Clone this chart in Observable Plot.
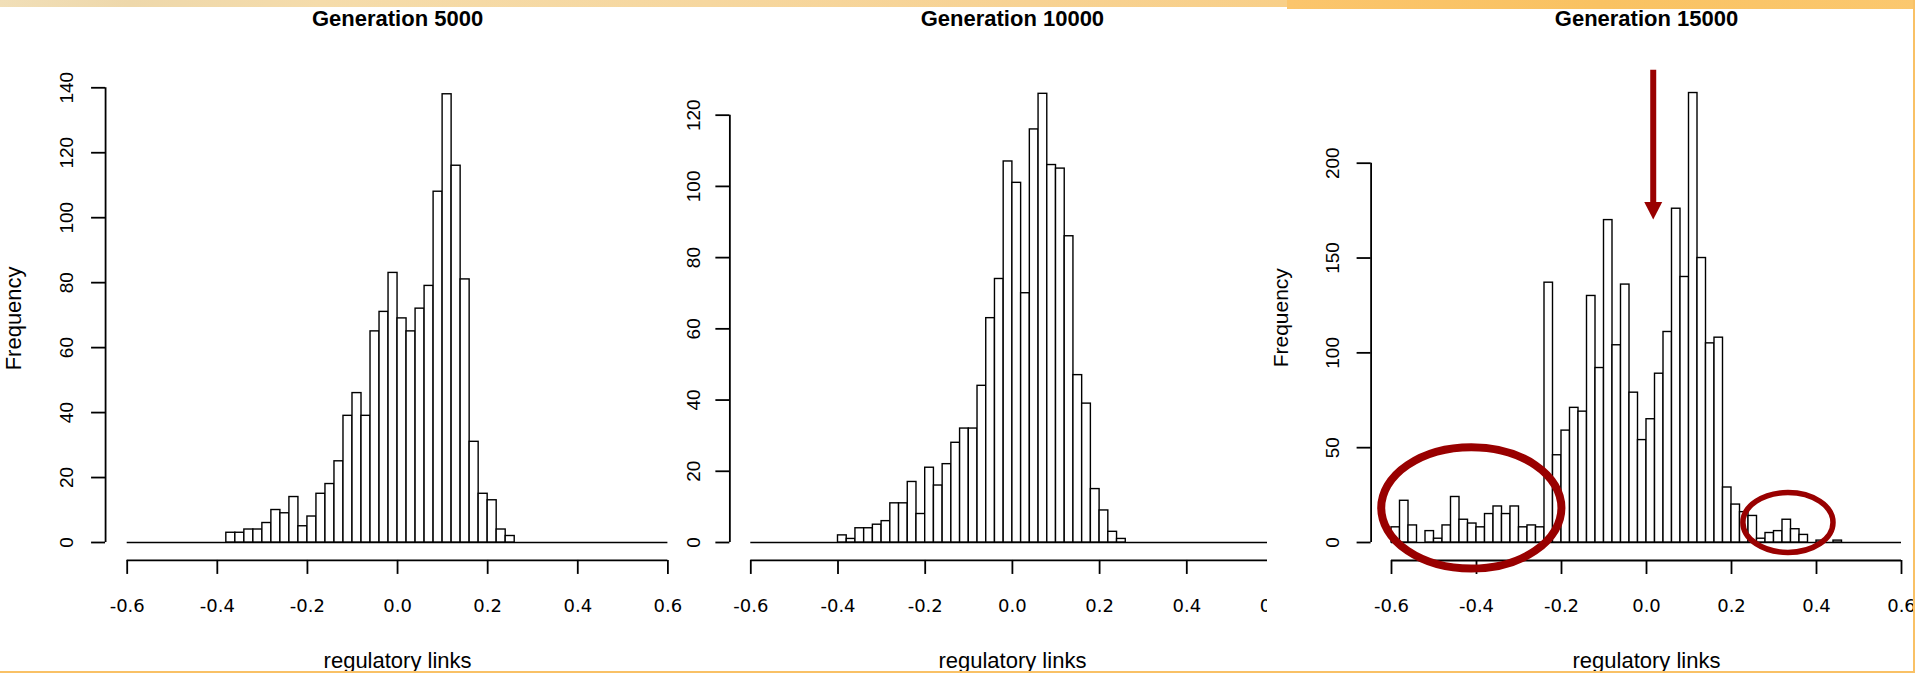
<!DOCTYPE html>
<html><head><meta charset="utf-8">
<script src="https://cdn.jsdelivr.net/npm/d3@7"></script>
<script src="https://cdn.jsdelivr.net/npm/@observablehq/plot@0.6"></script>
<style>
html,body{margin:0;padding:0;background:#fff;}
#wrap{position:relative;width:1915px;height:673px;overflow:hidden;background:#fff;}
.panel{position:absolute;top:0;height:673px;overflow:hidden;}
.strip{position:absolute;z-index:10;}
</style></head><body>
<div id="wrap">
  <div id="p1" class="panel" style="left:0px;width:682px"></div>
  <div id="p2" class="panel" style="left:682px;width:585px"></div>
  <div id="p3" class="panel" style="left:1267px;width:648px"></div>
  <div class="strip" style="left:0;top:0;width:1287px;height:7px;background:linear-gradient(90deg,#f1dfb8,#eed8ab 10%,#f5dcab 25%,#f6d79f 55%,#f7d293 80%,#f8cf88)"></div>
  <div class="strip" style="left:1287px;top:0;width:628px;height:9px;background:linear-gradient(90deg,#fbc56c,#f9c262 50%,#fbc86f)"></div>
  <div class="strip" style="left:0;top:671px;width:1915px;height:2px;background:#f9c166"></div>
  <div class="strip" style="left:1913px;top:0;width:2px;height:673px;background:#f9c166"></div>
</div>
<script>
// ---- data ----
const binWidth = 0.02;
const gen5000Start = -0.38;
const gen5000Counts = [3,3,4,4,6,10,9,14,5,8,15,18,25,39,46,39,65,71,83,69,65,72,79,108,138,116,81,31,15,13,4,2];
const gen10000Start = -0.40;
const gen10000Counts = [2,1,4,4,5,6,11,11,17,8,21,16,22,28,32,32,44,63,74,107,101,70,116,126,106,105,86,47,39,15,9,3,1];
const gen15000Start = -0.60;
const gen15000Counts = [8,22,9,0,6,2,9,24,12,10,8,15,19,15,19,8,9,8,137,46,59,71,69,130,92,170,104,136,79,54,65,89,111,176,140,237,150,105,108,29,20,16,14,2,5,6,12,7,4,0,1,0,1];
const titles = ["Generation 5000", "Generation 10000", "Generation 15000"];
const xTicks = [-0.6, -0.4, -0.2, 0, 0.2, 0.4, 0.6];
const yTicks1 = [0, 20, 40, 60, 80, 100, 120, 140];
const yTicks2 = [0, 20, 40, 60, 80, 100, 120];
const yTicks3 = [0, 50, 100, 150, 200];
const xLabel = "regulatory links";
const yLabel = "Frequency";
// annotations on generation 15000 (data units)
const arrowX = 0.017, arrowFrom = 249, arrowTo = 170;
const ellipseCenters = [[-0.411, 18.0], [0.334, 10.3]];
const ellipseRadii = [[0.212, 32.0], [0.106, 15.8]];

// ---- styles ----
const RED = "#990000";
const ellipseWidths = [8, 5.5];
const H = 673, Y0PX = 542;

function panel({el, width, counts, start, title, yTicks, xPx, ys, tickDx, yLabelDx, yLabelSize, extra}) {
  const bins = counts.map((n, i) => ({
    x1: +(start + i * binWidth).toFixed(2),
    x2: +(start + (i + 1) * binWidth).toFixed(2),
    n
  })).filter(d => d.n > 0);
  const ymax = d3.max(counts);
  const tmax = d3.max(yTicks);
  const xs = (xPx[1] - xPx[0]) / 1.2;
  const usrX0 = -0.6 - 0.04 * 1.2;
  const usrY0 = -0.04 * ymax;
  const marginLeft = xPx[0] + (usrX0 + 0.6) * xs;
  const marginBottom = H - (Y0PX - usrY0 * ys);
  const marks = [
    Plot.ruleY([0], {x1: -0.6, x2: 0.6, stroke: "#000", strokeWidth: 1.4}),
    Plot.rect(bins, {x1: "x1", x2: "x2", y1: 0, y2: "n", fill: "#fff", stroke: "#000", strokeWidth: 1.4}),
    Plot.ruleX([usrX0], {y1: 0, y2: tmax, stroke: "#000", strokeWidth: 1.8}),
    Plot.ruleY([usrY0], {x1: -0.6, x2: 0.6, stroke: "#000", strokeWidth: 1.8}),
    Plot.axisY(yTicks, {anchor: "left", tickSize: 14, tickFormat: () => "", strokeWidth: 1.8, label: null}),
    Plot.axisX(xTicks, {anchor: "bottom", tickSize: 14, tickFormat: () => "", strokeWidth: 1.8, label: null}),
    Plot.text(yTicks, {y: d => d, text: d => String(d), frameAnchor: "left", dx: tickDx, rotate: -90,
      textAnchor: "middle", lineAnchor: "middle",
      fontSize: 19, fontFamily: "Liberation Sans, Arial, sans-serif", fill: "#000"}),
    Plot.text(xTicks, {x: d => d, text: d => d.toFixed(1), frameAnchor: "bottom", dy: 46,
      textAnchor: "middle", lineAnchor: "middle",
      fontSize: 18, fontFamily: "DejaVu Sans, sans-serif", fill: "#000"}),
    Plot.text([title], {x: 0, frameAnchor: "top", dy: 18.5, textAnchor: "middle", lineAnchor: "middle",
      fontWeight: "bold", fontSize: 22, fill: "#000"}),
    Plot.text([xLabel], {x: 0, frameAnchor: "bottom", dy: 107.5, textAnchor: "middle", lineAnchor: "bottom",
      fontSize: 22, fill: "#000"})
  ];
  if (yLabelDx != null) {
    marks.push(Plot.text([yLabel], {y: ymax / 2, frameAnchor: "left", dx: yLabelDx, rotate: -90,
      textAnchor: "middle", lineAnchor: "bottom", fontSize: yLabelSize, fill: "#000"}));
  }
  if (extra) marks.push(extra);
  const chart = Plot.plot({
    width, height: H,
    marginLeft, marginBottom, marginTop: 0, marginRight: 0,
    x: {domain: [-0.6, 0.6], range: xPx, label: null},
    y: {domain: [0, tmax], range: [Y0PX, Y0PX - tmax * ys], label: null},
    style: {fontFamily: "Liberation Sans, Arial, sans-serif", background: "#fff", overflow: "hidden", maxWidth: "none", color: "#000"},
    marks
  });
  document.getElementById(el).appendChild(chart);
}

function annotations(index, scales) {
  const {x, y} = scales;
  const g = d3.create("svg:g");
  ellipseCenters.forEach(([cx, cy], i) => {
    const [rx, ry] = ellipseRadii[i];
    g.append("ellipse")
      .attr("cx", x(cx)).attr("cy", y(cy))
      .attr("rx", Math.abs(x(cx + rx) - x(cx))).attr("ry", Math.abs(y(cy) - y(cy + ry)))
      .attr("fill", "none").attr("stroke", RED).attr("stroke-width", ellipseWidths[i]);
  });
  const ax = x(arrowX), a0 = y(arrowFrom), a1 = y(arrowTo);
  g.append("line").attr("x1", ax).attr("x2", ax).attr("y1", a0).attr("y2", a1 - 15)
    .attr("stroke", RED).attr("stroke-width", 6);
  g.append("path").attr("d", `M${ax - 9},${a1 - 17.5}L${ax + 9},${a1 - 17.5}L${ax},${a1}Z`).attr("fill", RED);
  return g.node();
}

panel({el: "p1", width: 682, counts: gen5000Counts, start: gen5000Start, title: titles[0],
  yTicks: yTicks1, xPx: [126.7, 667.4], ys: 3.248, tickDx: -39, yLabelDx: -84.5, yLabelSize: 22});
panel({el: "p2", width: 585, counts: gen10000Counts, start: gen10000Start, title: titles[1],
  yTicks: yTicks2, xPx: [68.3, 591.5], ys: 3.561, tickDx: -35.5, yLabelDx: null});
panel({el: "p3", width: 648, counts: gen15000Counts, start: gen15000Start, title: titles[2],
  yTicks: yTicks3, xPx: [124, 634], ys: 1.8965, tickDx: -38, yLabelDx: -83, yLabelSize: 21, extra: annotations});
</script>
</body></html>
